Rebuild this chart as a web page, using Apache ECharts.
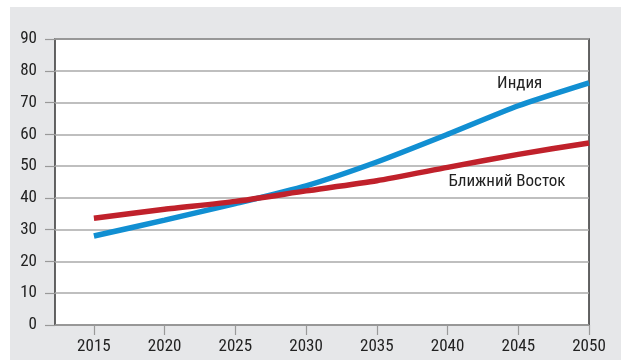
<!DOCTYPE html>
<html>
<head>
<meta charset="utf-8">
<script src="https://cdn.jsdelivr.net/npm/echarts@6/dist/echarts.min.js"></script>
<style>
html,body{margin:0;padding:0;background:#fff;}
#bg{position:absolute;left:10px;top:7px;width:611px;height:353px;background:#e6e7e9;}
#chart{position:absolute;left:0;top:0;width:621px;height:363px;}
</style>
</head>
<body>
<div id="bg"></div>
<div id="chart"></div>
<script>
const years = [2015, 2020, 2025, 2030, 2035, 2040, 2045, 2050];
const india = [28, 33, 38.2, 43.8, 51.3, 60, 69, 76.2];
const middleEast = [33.6, 36.4, 38.9, 42.2, 45.4, 49.6, 53.7, 57.3];
const yTicks = [0, 10, 20, 30, 40, 50, 60, 70, 80, 90];
const seriesNames = ['Индия', 'Ближний Восток'];

const font = '"Liberation Sans Narrow", "Arial Narrow", "Roboto Condensed", "Liberation Sans", sans-serif';
const chart = echarts.init(document.getElementById('chart'));
chart.setOption({
  animation: false,
  backgroundColor: 'transparent',
  textStyle: {fontFamily: font},
  grid: {left: 55, top: 39, right: 32, bottom: 38, show: true, backgroundColor: '#fff', borderColor: '#333', borderWidth: 1.5},
  xAxis: {
    type: 'value', min: 2012.25, max: 2050,
    axisLine: {show: false},
    splitLine: {show: false},
    axisTick: {show: true, length: 10, customValues: years, lineStyle: {color: '#999', width: 1.2}},
    axisLabel: {customValues: years, formatter: v => String(v), margin: 13, color: '#222', fontSize: 17, fontFamily: font}
  },
  yAxis: {
    type: 'value', min: yTicks[0], max: yTicks[yTicks.length - 1], interval: 10,
    axisLine: {show: false},
    axisTick: {show: true, length: 10, lineStyle: {color: '#999', width: 1.2}},
    splitLine: {lineStyle: {color: '#aaa', width: 1.5}},
    axisLabel: {margin: 18, color: '#222', fontSize: 17, fontFamily: font}
  },
  series: [
    {
      name: seriesNames[0], type: 'line', symbol: 'none', smooth: 0.2,
      data: years.map((y, i) => [y, india[i]]),
      lineStyle: {color: '#118fd2', width: 5.5},
      markPoint: {symbol: 'circle', symbolSize: 0, data: [{coord: [2045.1, 76], label: {show: true, position: 'inside', formatter: seriesNames[0], color: '#222', fontSize: 17, fontFamily: font}}]}
    },
    {
      name: seriesNames[1], type: 'line', symbol: 'none', smooth: 0.2,
      data: years.map((y, i) => [y, middleEast[i]]),
      lineStyle: {color: '#c0212b', width: 5.5},
      markPoint: {symbol: 'circle', symbolSize: 0, data: [{coord: [2044.2, 45.1], label: {show: true, position: 'inside', formatter: seriesNames[1], color: '#222', fontSize: 17, fontFamily: font}}]}
    }
  ]
});
</script>
</body>
</html>
